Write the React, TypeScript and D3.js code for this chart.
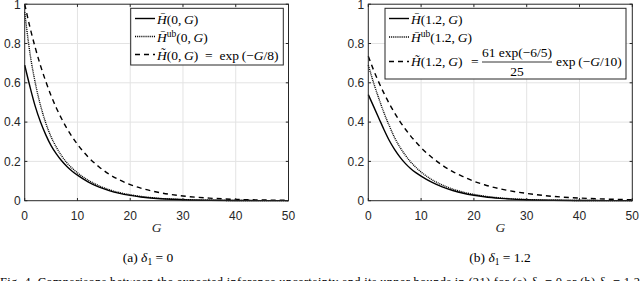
import React, { useEffect, useRef } from "react";
import * as d3 from "d3";

// G sample points
const gPoints = [0, 1, 2, 3, 4, 5, 6, 7, 8, 9, 10, 12, 14, 16, 18, 20, 22, 25, 30, 35, 40, 45, 50];

// panel (a) delta1 = 0
const exactA = [0.69, 0.58, 0.48, 0.4, 0.335, 0.28, 0.238, 0.203, 0.174, 0.15, 0.13, 0.096, 0.07, 0.051, 0.037, 0.027, 0.019, 0.011, 0.005, 0.002, 0.001, 0.0005, 0.0002];
const upperA = [0.96, 0.75, 0.6, 0.485, 0.395, 0.325, 0.272, 0.228, 0.193, 0.165, 0.142, 0.105, 0.077, 0.056, 0.041, 0.03, 0.022, 0.013, 0.006, 0.0025, 0.001, 0.0005, 0.0002];
const boundA = [1, 0.882, 0.779, 0.687, 0.607, 0.535, 0.472, 0.417, 0.368, 0.325, 0.287, 0.223, 0.174, 0.135, 0.105, 0.082, 0.064, 0.044, 0.024, 0.013, 0.0067, 0.0036, 0.0019];

// panel (b) delta1 = 1.2
const exactB = [0.54, 0.48, 0.42, 0.36, 0.305, 0.26, 0.222, 0.19, 0.164, 0.143, 0.125, 0.094, 0.07, 0.052, 0.038, 0.028, 0.02, 0.012, 0.005, 0.002, 0.001, 0.0005, 0.0002];
const upperB = [0.69, 0.6, 0.52, 0.445, 0.38, 0.32, 0.272, 0.232, 0.198, 0.17, 0.146, 0.108, 0.08, 0.059, 0.043, 0.032, 0.023, 0.014, 0.006, 0.0026, 0.0011, 0.0005, 0.0002];
const boundB = [0.735, 0.665, 0.602, 0.545, 0.493, 0.446, 0.403, 0.365, 0.33, 0.299, 0.27, 0.221, 0.181, 0.148, 0.122, 0.099, 0.081, 0.06, 0.037, 0.022, 0.0135, 0.0082, 0.005];

const xTicks = [0, 10, 20, 30, 40, 50];
const yTicks = [0, 0.2, 0.4, 0.6, 0.8, 1];

const W = 640;
const H = 281;
const serif = "'Liberation Serif', 'DejaVu Serif', serif";
const sans = "'Liberation Sans', Arial, sans-serif";
const axisColor = "#262626";
const mathSize = 13.5;

const lineStyles = [
  { dash: null, width: 1.4 },
  { dash: "1,0.9", width: 1.4 },
  { dash: "5,4", width: 1.4 },
];

const App = () => {
  const ref = useRef<any>(null);

  useEffect(() => {
    const svg = d3.select(ref.current);
    svg.selectAll("*").remove();

    const drawPanel = (x0: number, x1: number, series: number[][]) => {
      const x = d3.scaleLinear().domain([0, 50]).range([x0, x1]);
      const y = d3.scaleLinear().domain([0, 1]).range([200.7, 4.2]);
      const g = svg.append("g");

      // grid
      g.selectAll(".gx")
        .data(xTicks.slice(1, -1))
        .enter()
        .append("line")
        .attr("x1", (d) => x(d))
        .attr("x2", (d) => x(d))
        .attr("y1", y(0))
        .attr("y2", y(1))
        .attr("stroke", "#e3e3e3")
        .attr("stroke-width", 1);
      g.selectAll(".gy")
        .data(yTicks.slice(1, -1))
        .enter()
        .append("line")
        .attr("x1", x(0))
        .attr("x2", x(50))
        .attr("y1", (d) => y(d))
        .attr("y2", (d) => y(d))
        .attr("stroke", "#e3e3e3")
        .attr("stroke-width", 1);

      // curves
      const line = d3
        .line<number>()
        .x((d, i) => x(gPoints[i]))
        .y((d) => y(d))
        .curve(d3.curveMonotoneX);
      series.forEach((s, i) => {
        g.append("path")
          .attr("d", line(s))
          .attr("fill", "none")
          .attr("stroke", "#000")
          .attr("stroke-width", lineStyles[i].width)
          .attr("stroke-dasharray", lineStyles[i].dash);
      });

      // box
      g.append("rect")
        .attr("x", x(0))
        .attr("y", y(1))
        .attr("width", x(50) - x(0))
        .attr("height", y(0) - y(1))
        .attr("fill", "none")
        .attr("stroke", axisColor)
        .attr("stroke-width", 1);

      // ticks inside, all four sides
      const tl = 2.7;
      xTicks.forEach((t) => {
        g.append("line").attr("x1", x(t)).attr("x2", x(t)).attr("y1", y(0)).attr("y2", y(0) - tl).attr("stroke", axisColor);
        g.append("line").attr("x1", x(t)).attr("x2", x(t)).attr("y1", y(1)).attr("y2", y(1) + tl).attr("stroke", axisColor);
        g.append("text")
          .attr("x", x(t))
          .attr("y", 219.5)
          .attr("text-anchor", "middle")
          .attr("font-family", sans)
          .attr("font-size", 12)
          .attr("fill", axisColor)
          .text(t);
      });
      yTicks.forEach((t) => {
        g.append("line").attr("x1", x(0)).attr("x2", x(0) + tl).attr("y1", y(t)).attr("y2", y(t)).attr("stroke", axisColor);
        g.append("line").attr("x1", x(50)).attr("x2", x(50) - tl).attr("y1", y(t)).attr("y2", y(t)).attr("stroke", axisColor);
        g.append("text")
          .attr("x", x(0) - 4)
          .attr("y", y(t) + 4.3)
          .attr("text-anchor", "end")
          .attr("font-family", sans)
          .attr("font-size", 12)
          .attr("fill", axisColor)
          .text(d3.format("~g")(t));
      });

      g.append("text")
        .attr("x", (x(0) + x(50)) / 2)
        .attr("y", 232)
        .attr("text-anchor", "middle")
        .attr("font-family", serif)
        .attr("font-style", "italic")
        .attr("font-size", 13.5)
        .attr("fill", axisColor)
        .text("G");
      return g;
    };

    const legendSample = (g: any, lx: number, ly: number, i: number) => {
      g.append("line")
        .attr("x1", lx)
        .attr("x2", lx + 20)
        .attr("y1", ly)
        .attr("y2", ly)
        .attr("stroke", "#000")
        .attr("stroke-width", lineStyles[i].width)
        .attr("stroke-dasharray", lineStyles[i].dash);
    };

    // math text: parts [text, italic, sup]
    const mathText = (g: any, tx: number, ty: number, parts: any[], size = mathSize) => {
      const t = g.append("text").attr("x", tx).attr("y", ty).attr("font-family", serif).attr("font-size", size).attr("fill", "#000");
      parts.forEach((p) => {
        const s = t.append("tspan").text(p[0]);
        if (p[1]) s.attr("font-style", "italic");
        if (p[2]) s.attr("font-size", size * 0.7).attr("baseline-shift", "super");
      });
      return t;
    };

    // ---------- panel (a)
    const ga = drawPanel(24.7, 288.5, [exactA, upperA, boundA]);
    ga.append("rect").attr("x", 130.7).attr("y", 8.3).attr("width", 152.6).attr("height", 56.7).attr("fill", "#fff").attr("stroke", axisColor);
    legendSample(ga, 135, 18.5, 0);
    legendSample(ga, 135, 36.5, 1);
    legendSample(ga, 135, 54.5, 2);
    mathText(ga, 157, 23.5, [["H\u0304", true], ["(0,\u2009"], ["G", true], [")"]]);
    mathText(ga, 157, 41.5, [["H\u0304", true], ["ub", false, true], ["(0,\u2009"], ["G", true], [")"]]);
    mathText(ga, 157, 59.5, [["H\u0303", true], ["(0,\u2009"], ["G", true], [")\u2002=\u2002exp\u2009(\u2212"], ["G", true], ["/8)"]]);

    // ---------- panel (b)
    const gb = drawPanel(368.3, 632.3, [exactB, upperB, boundB]);
    gb.append("rect").attr("x", 385).attr("y", 8.3).attr("width", 241).attr("height", 70.7).attr("fill", "#fff").attr("stroke", axisColor);
    legendSample(gb, 389, 18.5, 0);
    legendSample(gb, 389, 37, 1);
    legendSample(gb, 389, 61.5, 2);
    mathText(gb, 411, 23.5, [["H\u0304", true], ["(1.2,\u2009"], ["G", true], [")"]]);
    mathText(gb, 411, 42, [["H\u0304", true], ["ub", false, true], ["(1.2,\u2009"], ["G", true], [")"]]);
    mathText(gb, 411, 66, [["H\u0303", true], ["(1.2,\u2009"], ["G", true], [")"]]);
    mathText(gb, 478.5, 66, [["="]]).attr("text-anchor", "end");
    mathText(gb, 517, 57, [["61 exp(\u22126/5)"]]).attr("text-anchor", "middle");
    gb.append("line").attr("x1", 482).attr("x2", 552).attr("y1", 62).attr("y2", 62).attr("stroke", "#000").attr("stroke-width", 0.8);
    mathText(gb, 517, 76, [["25"]]).attr("text-anchor", "middle");
    mathText(gb, 556, 66, [["exp\u2009(\u2212"], ["G", true], ["/10)"]]);

    // captions
    const cap = (cx: number, label: string, val: string) => {
      const t = svg.append("text").attr("x", cx).attr("y", 262).attr("text-anchor", "middle").attr("font-family", serif).attr("font-size", 13.5).attr("fill", "#000");
      t.append("tspan").text(label + "  ");
      t.append("tspan").attr("font-style", "italic").text("\u03B4");
      t.append("tspan").attr("font-size", 9.5).attr("dy", 2.5).text("1");
      t.append("tspan").attr("dy", -2.5).text(" = " + val);
    };
    cap(148, "(a)", "0");
    cap(500, "(b)", "1.2");

    const fig = svg
      .append("text")
      .attr("x", 0)
      .attr("y", 285.5)
      .attr("font-family", serif)
      .attr("font-size", 12.5)
      .attr("fill", "#000")
      .attr("textLength", 640)
      .attr("lengthAdjust", "spacing");
    fig.append("tspan").text("Fig. 4.   Comparisons between the expected inference uncertainty and its upper bounds in (21) for (a) ");
    fig.append("tspan").attr("font-style", "italic").text("\u03B4");
    fig.append("tspan").attr("font-size", 9).attr("dy", 2).text("1");
    fig.append("tspan").attr("dy", -2).text(" = 0 or (b) ");
    fig.append("tspan").attr("font-style", "italic").text("\u03B4");
    fig.append("tspan").attr("font-size", 9).attr("dy", 2).text("1");
    fig.append("tspan").attr("dy", -2).text(" = 1.2");
  }, []);

  return (
    <svg
      ref={ref}
      width={W}
      height={H}
      style={{ position: "absolute", left: 0, top: 0, background: "#fff" }}
    ></svg>
  );
};

export default App;
